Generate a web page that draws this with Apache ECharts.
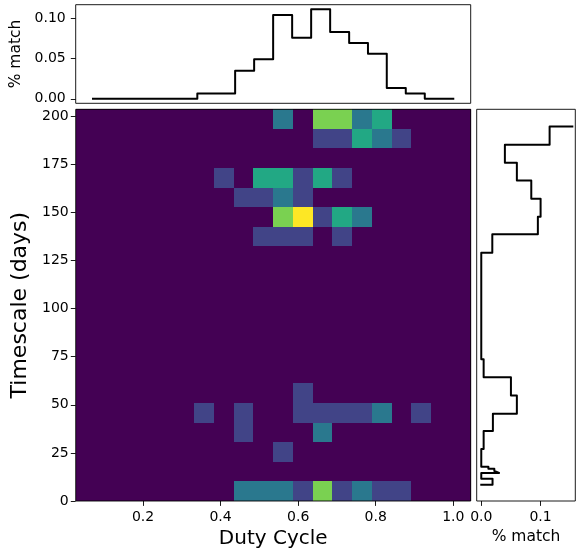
<!DOCTYPE html>
<html>
<head>
<meta charset="utf-8">
<script src="https://cdn.jsdelivr.net/npm/echarts@6/dist/echarts.min.js"></script>
<style>
  html, body { margin: 0; padding: 0; background: #ffffff; }
  #chart { width: 579px; height: 549px; }
</style>
</head>
<body>
<div id="chart"></div>
<script>
// Joint view: duty cycle vs timescale match counts, with both marginals.

// 20 x 20 bins spanning the data range on each axis
const dutyRange = [0.0264, 1.0449];
const timescaleRange = [0, 203.6];
const binCount = 20;

// Non-empty cells: column index, row index (counted from the bottom), count
const cellCol   = [10, 12, 13, 14, 15,  12, 13, 14, 15, 16,  7, 9, 10, 11, 12, 13,  8, 9, 10, 11,  10, 11, 12, 13, 14,  9, 10, 11, 13,  11,  6, 8, 11, 12, 13, 14, 15, 17,  8, 12,  10,  8, 9, 10, 11, 12, 13, 14, 15, 16];
const cellRow   = [19, 19, 19, 19, 19,  18, 18, 18, 18, 18,  16, 16, 16, 16, 16, 16,  15, 15, 15, 15,  14, 14, 14, 14, 14,  13, 13, 13, 13,  5,  4, 4, 4, 4, 4, 4, 4, 4,  3, 3,  2,  0, 0, 0, 0, 0, 0, 0, 0, 0];
const cellCount = [2, 4, 4, 2, 3,  1, 1, 3, 2, 1,  1, 3, 3, 1, 3, 1,  1, 1, 2, 1,  4, 5, 1, 3, 2,  1, 1, 1, 1,  1,  1, 1, 1, 1, 1, 1, 2, 1,  1, 2,  1,  2, 2, 2, 1, 4, 1, 2, 1, 1];

// Marginal over duty cycle
const dutyCentres = [0.071, 0.120, 0.169, 0.218, 0.267, 0.316, 0.364, 0.413, 0.462, 0.511,
                     0.560, 0.609, 0.658, 0.707, 0.756, 0.804, 0.853, 0.902, 0.951, 1.000];
const dutyMatch   = [0, 0, 0, 0, 0, 0, 0.0067, 0.0067, 0.0347, 0.0489,
                     0.1038, 0.0757, 0.1109, 0.0828, 0.0691, 0.0558, 0.0133, 0.0067, 0, 0];

// Marginal over timescale (days)
const timescalePos   = [8.5, 8.5, 11.6, 14.6, 15.6, 16.7, 17.8, 27.0, 36.4, 45.4, 54.9, 64.3, 73.7,
                        82.9, 92.2, 101.4, 110.6, 119.9, 129.1, 138.6, 147.8, 157.1, 166.6, 175.8, 185.2, 194.6];
const timescaleMatch = [0, 0.019, 0, 0.030, 0.022, 0.012, 0, 0.004, 0.0196, 0.060, 0.050, 0.004, 0,
                        0, 0, 0, 0, 0, 0.0186, 0.0954, 0.100, 0.0843, 0.060, 0.0398, 0.1152, 0.1535];

// Tick labels
const dutyTicks = [0.2, 0.4, 0.6, 0.8, 1.0];
const timescaleTicks = [0, 25, 50, 75, 100, 125, 150, 175, 200];
const dutyMatchTicks = [0, 0.05, 0.10];
const timescaleMatchTicks = [0, 0.1];

const dutyMatchRange = [-0.00555, 0.11645];
const timescaleMatchRange = [-0.0077, 0.1585];

const viridis = ['#440154', '#414487', '#2a788e', '#22a884', '#7ad151', '#fde725'];

// Full count table built from the non-empty cells
const table = [];
for (let r = 0; r < binCount; r++) {
  for (let c = 0; c < binCount; c++) table.push([c, r, 0]);
}
cellCol.forEach((c, i) => { table[cellRow[i] * binCount + c][2] = cellCount[i]; });

const cellW = (dutyRange[1] - dutyRange[0]) / binCount;
const cellH = (timescaleRange[1] - timescaleRange[0]) / binCount;

const FONT = 'DejaVu Sans';
const tickFont = { color: '#000', fontFamily: FONT, fontSize: 14 };

function ticked(values, fmt, margin, extra) {
  return Object.assign({
    axisLine: { show: false },
    splitLine: { show: false },
    axisTick: { show: true, customValues: values, length: 4.9, lineStyle: { color: '#000', width: 0.9 } },
    axisLabel: Object.assign({ show: true, customValues: values, formatter: fmt, margin: margin }, tickFont)
  }, extra || {});
}
const bare = { axisLine: { show: false }, axisTick: { show: false }, axisLabel: { show: false }, splitLine: { show: false } };

const gridStyle = {
  show: true, borderColor: '#000', borderWidth: 0.9, backgroundColor: 'transparent',
  z: 10, containLabel: false, outerBoundsMode: 'none'
};

const chart = echarts.init(document.getElementById('chart'), null, { renderer: 'canvas' });
chart.setOption({
  animation: false,
  backgroundColor: '#ffffff',
  grid: [
    Object.assign({ left: 75.7, top: 4.7, width: 395, height: 98.6 }, gridStyle),
    Object.assign({ left: 75.7, top: 109.3, width: 395, height: 391.7 }, gridStyle),
    Object.assign({ left: 476.7, top: 109.3, width: 98.6, height: 391.7 }, gridStyle)
  ],
  xAxis: [
    Object.assign({ type: 'value', gridIndex: 0, min: dutyRange[0], max: dutyRange[1] }, bare),
    Object.assign({ type: 'value', gridIndex: 1, min: dutyRange[0], max: dutyRange[1] },
      ticked(dutyTicks, v => v.toFixed(1), 9, {
        name: 'Duty Cycle', nameLocation: 'middle', nameGap: 27,
        nameTextStyle: { color: '#000', fontFamily: FONT, fontSize: 20 }
      })),
    Object.assign({ type: 'value', gridIndex: 2, min: timescaleMatchRange[0], max: timescaleMatchRange[1] },
      ticked(timescaleMatchTicks, v => v.toFixed(1), 9, {
        name: '% match', nameLocation: 'middle', nameGap: 28,
        nameTextStyle: { color: '#000', fontFamily: FONT, fontSize: 15.5 }
      }))
  ],
  yAxis: [
    Object.assign({ type: 'value', gridIndex: 0, min: dutyMatchRange[0], max: dutyMatchRange[1] },
      ticked(dutyMatchTicks, v => v.toFixed(2), 10, {
        name: '% match', nameLocation: 'middle', nameGap: 48,
        nameTextStyle: { color: '#000', fontFamily: FONT, fontSize: 15.5 }
      })),
    Object.assign({ type: 'value', gridIndex: 1, min: timescaleRange[0], max: timescaleRange[1] },
      ticked(timescaleTicks, v => String(v), 7, {
        name: 'Timescale (days)', nameLocation: 'middle', nameGap: 40,
        nameTextStyle: { color: '#000', fontFamily: FONT, fontSize: 22 }
      })),
    Object.assign({ type: 'value', gridIndex: 2, min: timescaleRange[0], max: timescaleRange[1] }, bare)
  ],
  series: [
    {
      type: 'custom',
      xAxisIndex: 1,
      yAxisIndex: 1,
      data: table,
      renderItem: function (params, api) {
        const x0 = dutyRange[0] + api.value(0) * cellW;
        const y0 = timescaleRange[0] + api.value(1) * cellH;
        const p0 = api.coord([x0, y0]);
        const p1 = api.coord([x0 + cellW, y0 + cellH]);
        // snap to whole pixels so neighbouring cells share edges without seams
        const left = Math.round(p0[0]), right = Math.round(p1[0]);
        const top = Math.round(p1[1]), bottom = Math.round(p0[1]);
        return {
          type: 'rect',
          shape: { x: left, y: top, width: right - left, height: bottom - top },
          style: { fill: viridis[api.value(2)] }
        };
      }
    },
    {
      type: 'line',
      xAxisIndex: 0,
      yAxisIndex: 0,
      step: 'middle',
      showSymbol: false,
      symbol: 'none',
      data: dutyCentres.map((x, i) => [x, dutyMatch[i]]),
      lineStyle: { color: '#000', width: 2, join: 'round', cap: 'square' }
    },
    {
      type: 'line',
      xAxisIndex: 2,
      yAxisIndex: 2,
      step: 'start',
      showSymbol: false,
      symbol: 'none',
      data: timescalePos.map((p, i) => [timescaleMatch[i], p]),
      lineStyle: { color: '#000', width: 2, join: 'round', cap: 'square' }
    }
  ]
});
</script>
</body>
</html>
